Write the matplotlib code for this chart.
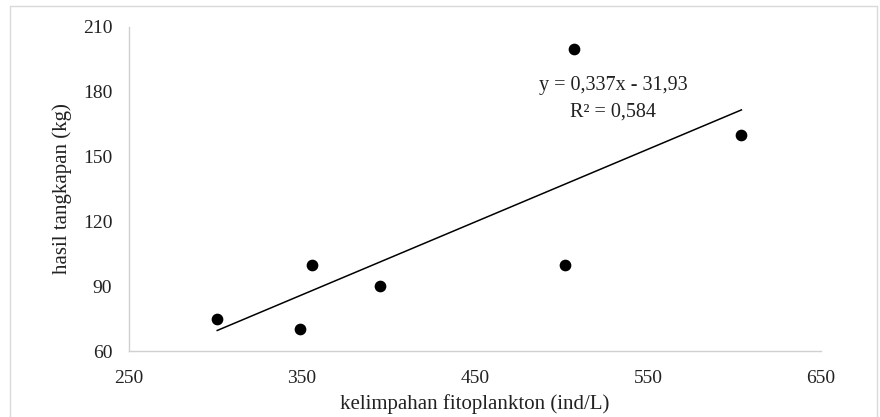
import matplotlib
matplotlib.use("Agg")
import matplotlib.pyplot as plt
import numpy as np
from matplotlib.patches import Rectangle

x_vals = [301, 349, 356, 395, 502, 507, 604]
y_vals = [75, 70, 100, 90, 100, 200, 160]
slope = 0.337
intercept = -31.93
eq_text = "y = 0,337x - 31,93"
r2_text = "R² = 0,584"
x_ticks = [250, 350, 450, 550, 650]
y_ticks = [60, 90, 120, 150, 180, 210]

plt.rcParams['font.family'] = ['Liberation Serif', 'DejaVu Serif']

fig = plt.figure(figsize=(8.8, 4.17), dpi=100)
ax = fig.add_axes([129/880, 1-351/417, (821-129)/880, (351-27)/417])

ax.scatter(x_vals, y_vals, s=55, color='black', zorder=3)
xl = np.array([min(x_vals), max(x_vals)])
ax.plot(xl, slope*xl + intercept, color='black', lw=1.1)

ax.set_xlim(250, 650)
ax.set_ylim(60, 210)
ax.set_xticks(x_ticks)
ax.set_yticks(y_ticks)
ax.tick_params(length=0, labelsize=14, colors='#222222')
ax.tick_params(axis='x', pad=14)
ax.tick_params(axis='y', pad=12)
for s in ['top', 'right']:
    ax.spines[s].set_visible(False)
for s in ['left', 'bottom']:
    ax.spines[s].set_color('#d0d0d0')
    ax.spines[s].set_linewidth(1)

ax.set_xlabel("kelimpahan fitoplankton (ind/L)", fontsize=15, color='#222222', labelpad=5)
ax.set_ylabel("hasil tangkapan (kg)", fontsize=15, color='#222222', labelpad=8)

ax.text(530, 182.7, eq_text, ha='center', va='center', fontsize=14.5, color='#222222')
ax.text(530, 170.6, r2_text, ha='center', va='center', fontsize=14.5, color='#222222')

fig.patches.append(Rectangle((10/880, -0.01), (877-10)/880, 1-6/417+0.01,
                             transform=fig.transFigure, fill=False,
                             edgecolor='#d9d9d9', lw=1))

fig.savefig("out.png", dpi=100)
